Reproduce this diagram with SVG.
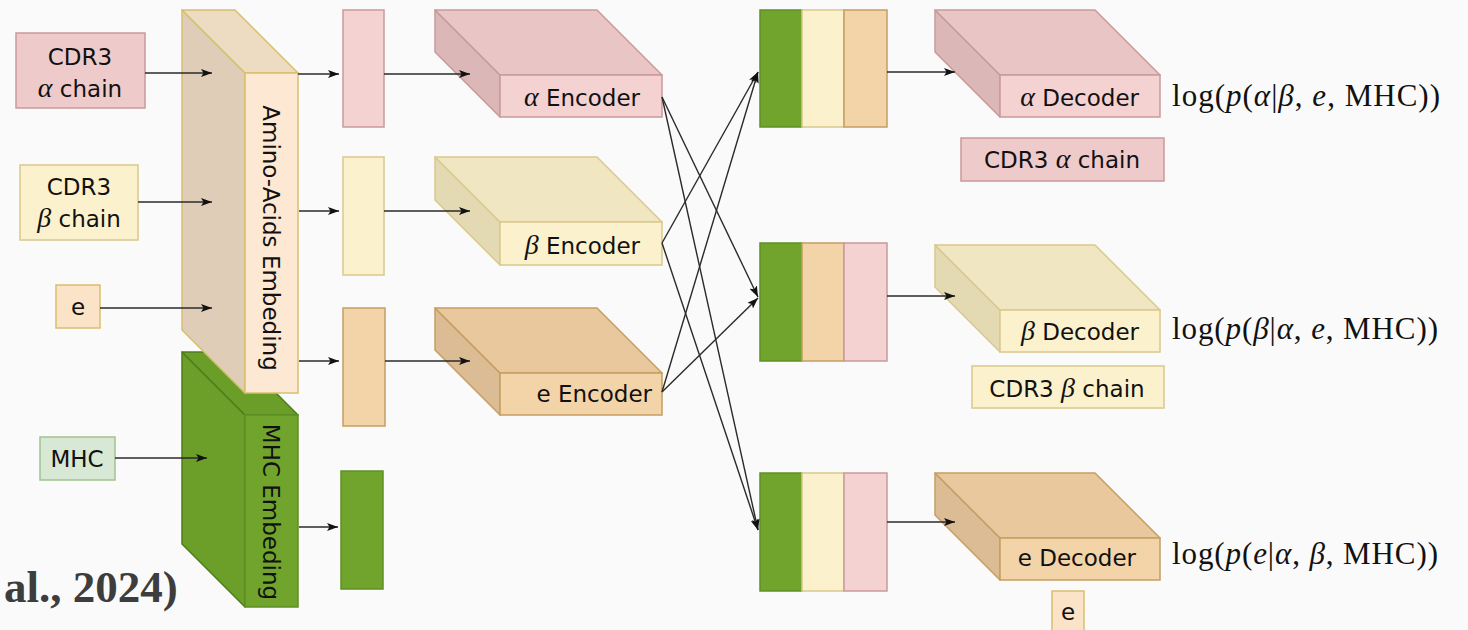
<svg xmlns="http://www.w3.org/2000/svg" width="1468" height="630" viewBox="0 0 1468 630">
<defs>
<marker id="ah" viewBox="0 0 11 8" refX="11" refY="4" markerWidth="11" markerHeight="8" markerUnits="userSpaceOnUse" orient="auto">
<path d="M0,0 L11,4 L0,8 L2.5,4 z" fill="#111"/>
</marker>
<style>
.lbl{font-family:"DejaVu Sans","Liberation Sans",sans-serif;font-size:23px;fill:#111}
.gk{font-family:"Liberation Serif","DejaVu Serif",serif;font-style:italic;font-size:28px}
.math{font-family:"Liberation Serif","DejaVu Serif",serif;font-size:31px;fill:#111}
.it{font-style:italic}
.ln{fill:none;stroke:#2a2a2a;stroke-width:1.4;marker-end:url(#ah)}
.pk{fill:#f3d2d1;stroke:#c99a9a;stroke-width:1.5}
.pkT{fill:#e9c6c5;stroke:#c99a9a;stroke-width:1.5;stroke-linejoin:round}
.pkL{fill:#dbb8b7;stroke:#c99a9a;stroke-width:1.5;stroke-linejoin:round}
.yl{fill:#fcf1cd;stroke:#d9c98c;stroke-width:1.5}
.ylT{fill:#f0e6c1;stroke:#d9c98c;stroke-width:1.5;stroke-linejoin:round}
.ylL{fill:#e3d9b3;stroke:#d9c98c;stroke-width:1.5;stroke-linejoin:round}
.tn{fill:#f3d4a9;stroke:#c59e62;stroke-width:1.5}
.tnT{fill:#e9c89e;stroke:#c59e62;stroke-width:1.5;stroke-linejoin:round}
.tnL{fill:#dcbc94;stroke:#c59e62;stroke-width:1.5;stroke-linejoin:round}
.gr{fill:#70a42c;stroke:#5f9024;stroke-width:1.5}
.grT{fill:#6a9e28;stroke:#4f7d1c;stroke-width:1.5;stroke-linejoin:round}
.grL{fill:#6c9f29;stroke:#4f7d1c;stroke-width:1.5;stroke-linejoin:round}
.amF{fill:#fce8d3;stroke:#d8bf6c;stroke-width:1.5}
.amT{fill:#eddbc2;stroke:#d8bf6c;stroke-width:1.5;stroke-linejoin:round}
.amL{fill:#dfcdb8;stroke:#d8bf6c;stroke-width:1.5;stroke-linejoin:round}
</style>
</defs>
<rect width="1468" height="630" fill="#fafafa"/>

<!-- inputs -->
<g id="in-alpha">
<rect x="16" y="33" width="129" height="75" fill="#efcaca" stroke="#c99a9a" stroke-width="1.5"/>
<text class="lbl" x="80" y="65" text-anchor="middle">CDR3</text>
<text class="lbl" x="80" y="97" text-anchor="middle"><tspan class="gk">α</tspan> chain</text>
</g>
<g id="in-beta">
<rect x="20" y="165" width="118" height="75" class="yl"/>
<text class="lbl" x="79" y="195" text-anchor="middle">CDR3</text>
<text class="lbl" x="79" y="227" text-anchor="middle"><tspan class="gk">β</tspan> chain</text>
</g>
<g id="in-e">
<rect x="56" y="285" width="44" height="43" fill="#fae3c7" stroke="#d8bf6c" stroke-width="1.5"/>
<text class="lbl" x="78" y="315" text-anchor="middle">e</text>
</g>
<g id="in-mhc">
<rect x="40" y="437" width="75" height="43" fill="#d7e8d4" stroke="#a3c28f" stroke-width="1.5"/>
<text class="lbl" x="77" y="467" text-anchor="middle">MHC</text>
</g>

<!-- embeddings -->
<g id="mhc-embedding">
<polygon class="grL" points="182,352 245,415 245,607 182,544"/>
<polygon class="grT" points="182,352 235,352 298,415 245,415"/>
<rect class="gr" x="245" y="415" width="53" height="192"/>
<text class="lbl" transform="translate(271,512) rotate(90)" text-anchor="middle" dominant-baseline="central">MHC Embeding</text>
</g>
<g id="aa-embedding">
<polygon class="amL" points="182,10 245,73 245,393 182,330"/>
<polygon class="amT" points="182,10 235,10 298,73 245,73"/>
<rect class="amF" x="245" y="73" width="53" height="320"/>
<text class="lbl" transform="translate(271,238) rotate(90)" text-anchor="middle" dominant-baseline="central">Amino-Acids Embeding</text>
</g>

<!-- embedded vectors -->
<g id="vec-alpha"><rect class="pk" x="343" y="10" width="41" height="117"/></g>
<g id="vec-beta"><rect class="yl" x="343" y="157" width="41" height="118"/></g>
<g id="vec-e"><rect class="tn" x="343" y="308" width="42" height="118"/></g>
<g id="vec-mhc"><rect class="gr" x="341" y="471" width="42" height="118"/></g>

<!-- encoders -->
<g id="enc-alpha">
<polygon class="pkL" points="435,10 500,75 500,117 435,52"/>
<polygon class="pkT" points="435,10 597,10 662,75 500,75"/>
<rect class="pk" x="500" y="75" width="162" height="42"/>
<text class="lbl" x="640" y="106" text-anchor="end"><tspan class="gk">α</tspan> Encoder</text>
</g>
<g id="enc-beta">
<polygon class="ylL" points="435,157 500,222 500,265 435,200"/>
<polygon class="ylT" points="435,157 597,157 662,222 500,222"/>
<rect class="yl" x="500" y="222" width="162" height="43"/>
<text class="lbl" x="640" y="254" text-anchor="end"><tspan class="gk">β</tspan> Encoder</text>
</g>
<g id="enc-e">
<polygon class="tnL" points="435,308 500,373 500,415 435,350"/>
<polygon class="tnT" points="435,308 597,308 662,373 500,373"/>
<rect class="tn" x="500" y="373" width="162" height="42"/>
<text class="lbl" x="652" y="402" text-anchor="end">e Encoder</text>
</g>

<!-- concatenations -->
<g id="cat-1">
<rect class="gr" x="760" y="10" width="42" height="117"/>
<rect class="yl" x="802" y="10" width="42" height="117"/>
<rect class="tn" x="844" y="10" width="43" height="117"/>
</g>
<g id="cat-2">
<rect class="gr" x="760" y="243" width="42" height="118"/>
<rect class="tn" x="802" y="243" width="42" height="118"/>
<rect class="pk" x="844" y="243" width="43" height="118"/>
</g>
<g id="cat-3">
<rect class="gr" x="760" y="473" width="42" height="118"/>
<rect class="yl" x="802" y="473" width="42" height="118"/>
<rect class="pk" x="844" y="473" width="43" height="118"/>
</g>

<!-- decoders -->
<g id="dec-alpha">
<polygon class="pkL" points="935,10 1000,75 1000,117 935,52"/>
<polygon class="pkT" points="935,10 1095,10 1160,75 1000,75"/>
<rect class="pk" x="1000" y="75" width="160" height="42"/>
<text class="lbl" x="1139" y="106" text-anchor="end"><tspan class="gk">α</tspan> Decoder</text>
</g>
<g id="dec-beta">
<polygon class="ylL" points="935,245 1000,310 1000,352 935,287"/>
<polygon class="ylT" points="935,245 1095,245 1160,310 1000,310"/>
<rect class="yl" x="1000" y="310" width="160" height="42"/>
<text class="lbl" x="1139" y="340" text-anchor="end"><tspan class="gk">β</tspan> Decoder</text>
</g>
<g id="dec-e">
<polygon class="tnL" points="935,473 1000,538 1000,580 935,515"/>
<polygon class="tnT" points="935,473 1095,473 1160,538 1000,538"/>
<rect class="tn" x="1000" y="538" width="160" height="42"/>
<text class="lbl" x="1136" y="566" text-anchor="end">e Decoder</text>
</g>

<!-- output labels -->
<g id="out-alpha">
<rect x="961" y="138" width="203" height="43" fill="#efcaca" stroke="#c99a9a" stroke-width="1.5"/>
<text class="lbl" x="1062" y="168" text-anchor="middle">CDR3 <tspan class="gk">α</tspan> chain</text>
</g>
<g id="out-beta">
<rect x="972" y="366" width="192" height="42" class="yl"/>
<text class="lbl" x="1067" y="397" text-anchor="middle">CDR3 <tspan class="gk">β</tspan> chain</text>
</g>
<g id="out-e">
<rect x="1052" y="591" width="32" height="45" fill="#fae3c7" stroke="#d8bf6c" stroke-width="1.5"/>
<text class="lbl" x="1068" y="620" text-anchor="middle">e</text>
</g>

<!-- likelihood formulas -->
<g id="math-alpha"><text class="math" x="1172" y="106" textLength="268" lengthAdjust="spacing">log(<tspan class="it">p</tspan>(<tspan class="it">α</tspan>|<tspan class="it">β</tspan>, <tspan class="it">e</tspan>, MHC))</text></g>
<g id="math-beta"><text class="math" x="1172" y="339" textLength="266" lengthAdjust="spacing">log(<tspan class="it">p</tspan>(<tspan class="it">β</tspan>|<tspan class="it">α</tspan>, <tspan class="it">e</tspan>, MHC))</text></g>
<g id="math-e"><text class="math" x="1172" y="564" textLength="266" lengthAdjust="spacing">log(<tspan class="it">p</tspan>(<tspan class="it">e</tspan>|<tspan class="it">α</tspan>, <tspan class="it">β</tspan>, MHC))</text></g>

<!-- citation fragment -->
<text x="4" y="602" font-family="Liberation Serif, DejaVu Serif, serif" font-weight="bold" font-size="45" fill="#3d3d3d">al., 2024)</text>

<!-- connectors -->
<g id="connectors">
<line class="ln" x1="145" y1="73" x2="212" y2="73"/>
<line class="ln" x1="138" y1="202" x2="212" y2="202"/>
<line class="ln" x1="100" y1="308" x2="212" y2="308"/>
<line class="ln" x1="115" y1="458" x2="207" y2="458"/>
<line class="ln" x1="298" y1="74" x2="339" y2="74"/>
<line class="ln" x1="299" y1="211" x2="339" y2="211"/>
<line class="ln" x1="299" y1="361" x2="339" y2="361"/>
<line class="ln" x1="299" y1="527" x2="338" y2="527"/>
<line class="ln" x1="384" y1="74" x2="470" y2="74"/>
<line class="ln" x1="384" y1="211" x2="470" y2="211"/>
<line class="ln" x1="385" y1="361" x2="470" y2="361"/>
<line class="ln" x1="662" y1="97" x2="758" y2="297"/>
<line class="ln" x1="662" y1="97" x2="758" y2="530"/>
<line class="ln" x1="662" y1="243" x2="758" y2="72"/>
<line class="ln" x1="662" y1="243" x2="758" y2="530"/>
<line class="ln" x1="662" y1="392" x2="758" y2="72"/>
<line class="ln" x1="662" y1="392" x2="758" y2="298"/>
<line class="ln" x1="887" y1="72" x2="955" y2="72"/>
<line class="ln" x1="887" y1="296" x2="955" y2="296"/>
<line class="ln" x1="887" y1="522" x2="955" y2="522"/>
</g>
</svg>
